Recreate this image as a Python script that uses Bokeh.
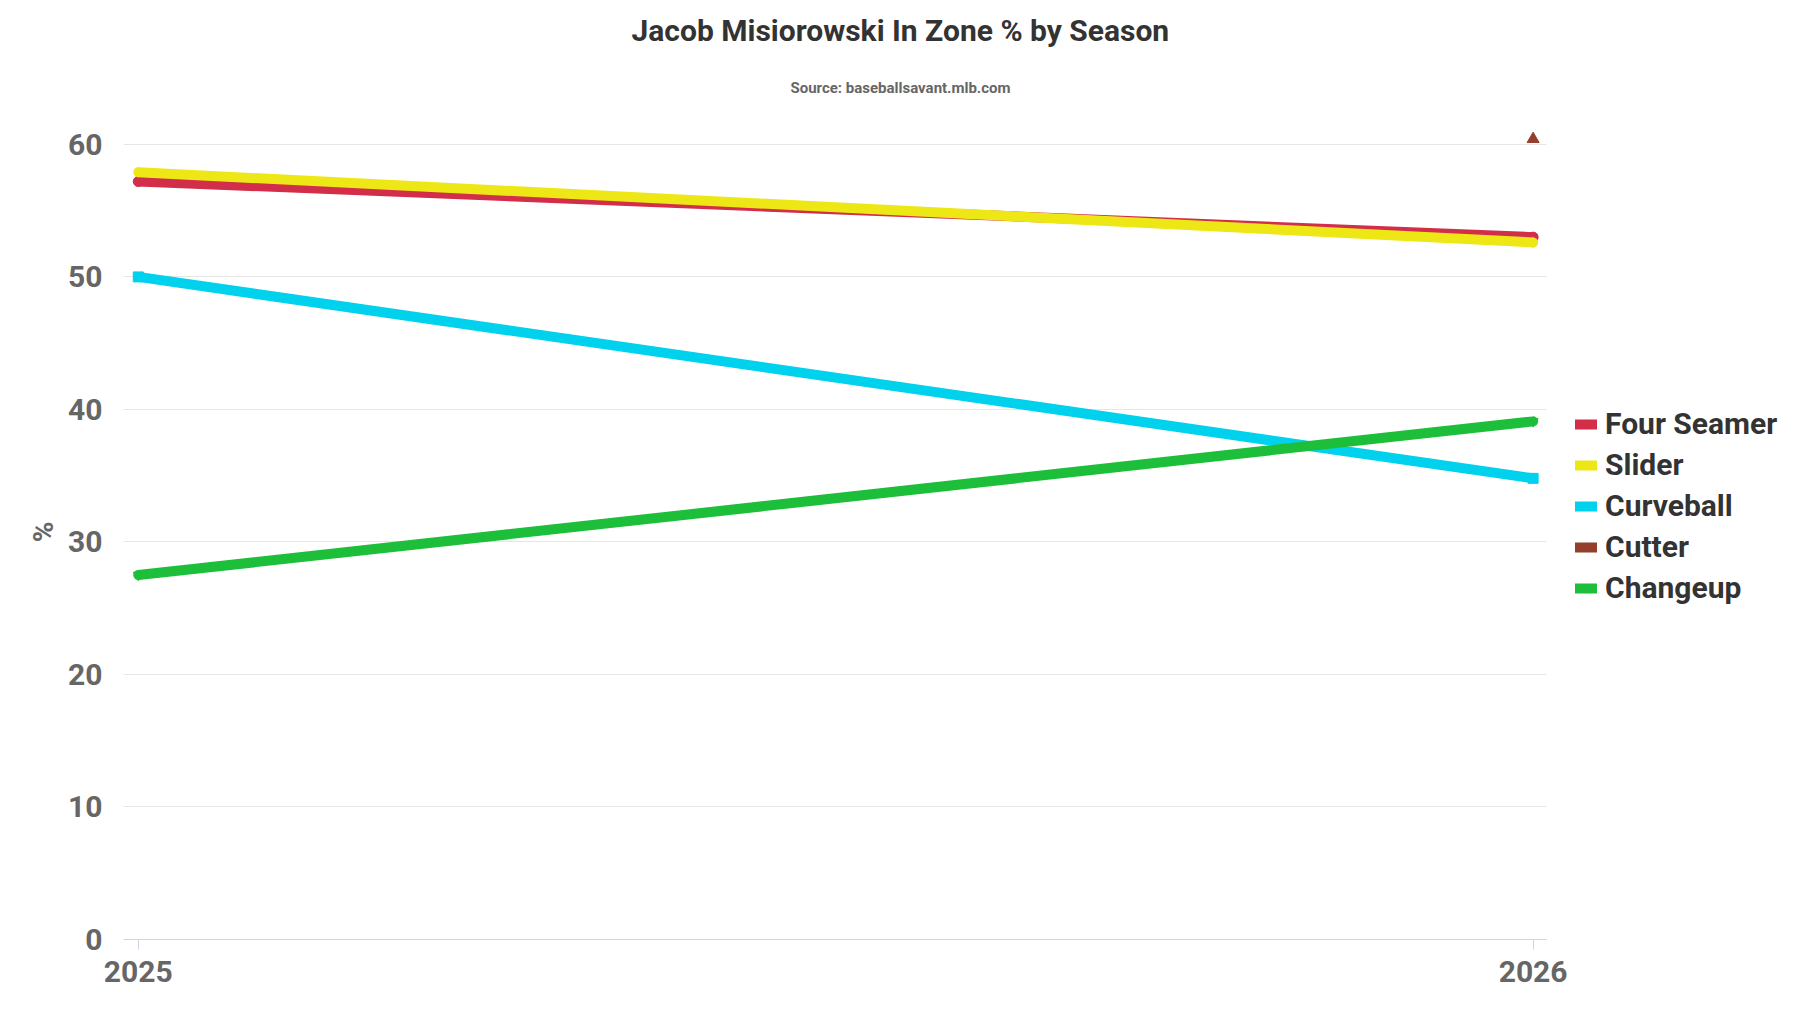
from bokeh.plotting import figure
from bokeh.models import FixedTicker, Legend, LegendItem, Title
from bokeh.embed import file_html
from bokeh.resources import INLINE

seasons = [2025, 2026]
four_seamer = [57.2, 53.0]
slider = [57.9, 52.6]
curveball = [50.0, 34.8]
cutter_seasons = [2026]
cutter = [60.4]
changeup = [27.5, 39.1]

series = [
    ("Four Seamer", seasons, four_seamer, "#d22d49", "circle"),
    ("Slider", seasons, slider, "#eee716", "diamond"),
    ("Curveball", seasons, curveball, "#00d1ed", "square"),
    ("Cutter", cutter_seasons, cutter, "#933f2c", "triangle"),
    ("Changeup", seasons, changeup, "#1dbe3a", "inverted_triangle"),
]

FONT = "Roboto"
p = figure(frame_width=1423, frame_height=815, output_backend="svg", toolbar_location=None,
           x_range=(2024.9894, 2026.0096), y_range=(0, 61.5),
           min_border_left=123, min_border_right=254, min_border_top=124, min_border_bottom=74,
           title="Jacob Misiorowski In Zone % by Season")
p.outline_line_color = None
p.background_fill_color = "white"
p.border_fill_color = "white"

p.title.align = "left"
p.title.offset = 508
p.title.standoff = 12
p.title.text_font = FONT
p.title.text_font_style = "bold"
p.title.text_font_size = "30px"
p.title.text_color = "#333333"
p.add_layout(Title(text="Source: baseballsavant.mlb.com", align="left", offset=667,
                   standoff=51, vertical_align="top", text_font=FONT, text_font_style="bold",
                   text_font_size="15px", text_color="#666666"), "above")

items = []
for name, xs, ys, color, marker in series:
    r1 = p.line(xs, ys, line_color=color, line_width=10, line_cap="round", line_join="round")
    r2 = p.scatter(xs, ys, marker=marker, size=12 if marker == "triangle" else 10,
                   fill_color=color, line_color=color)
    items.append(LegendItem(label=name, renderers=[r1, r2]))

legend = Legend(items=items, location=(29, 334), orientation="vertical",
                label_text_font=FONT, label_text_font_style="bold", label_text_font_size="30px",
                label_text_color="#333333", glyph_width=22, glyph_height=20, label_standoff=8,
                spacing=6, padding=0, margin=0, border_line_color=None, background_fill_alpha=0)
p.add_layout(legend, "right")

p.xaxis.ticker = FixedTicker(ticks=seasons)
p.xaxis.axis_line_color = "#ccd6eb"
p.xaxis.major_tick_line_color = "#ccd6eb"
p.xaxis.major_tick_in = 0
p.xaxis.major_tick_out = 10
p.xaxis.minor_tick_line_color = None
p.xaxis.major_label_text_font = FONT
p.xaxis.major_label_text_font_style = "bold"
p.xaxis.major_label_text_font_size = "30px"
p.xaxis.major_label_text_color = "#666666"
p.xaxis.major_label_standoff = 11

p.yaxis.ticker = FixedTicker(ticks=[0, 10, 20, 30, 40, 50, 60])
p.yaxis.axis_line_color = None
p.yaxis.major_tick_line_color = None
p.yaxis.minor_tick_line_color = None
p.yaxis.major_label_text_font = FONT
p.yaxis.major_label_text_font_style = "bold"
p.yaxis.major_label_text_font_size = "30px"
p.yaxis.major_label_text_color = "#666666"
p.yaxis.major_label_standoff = 15
p.yaxis.axis_label = "%"
p.yaxis.axis_label_text_font = FONT
p.yaxis.axis_label_text_font_style = "bold"
p.yaxis.axis_label_text_font_size = "28px"
p.yaxis.axis_label_text_color = "#666666"
p.yaxis.axis_label_standoff = 5

p.xgrid.grid_line_color = None
p.ygrid.grid_line_color = "#e6e6e6"
p.ygrid.grid_line_width = 1

open("out.html", "w").write(file_html(p, INLINE))
